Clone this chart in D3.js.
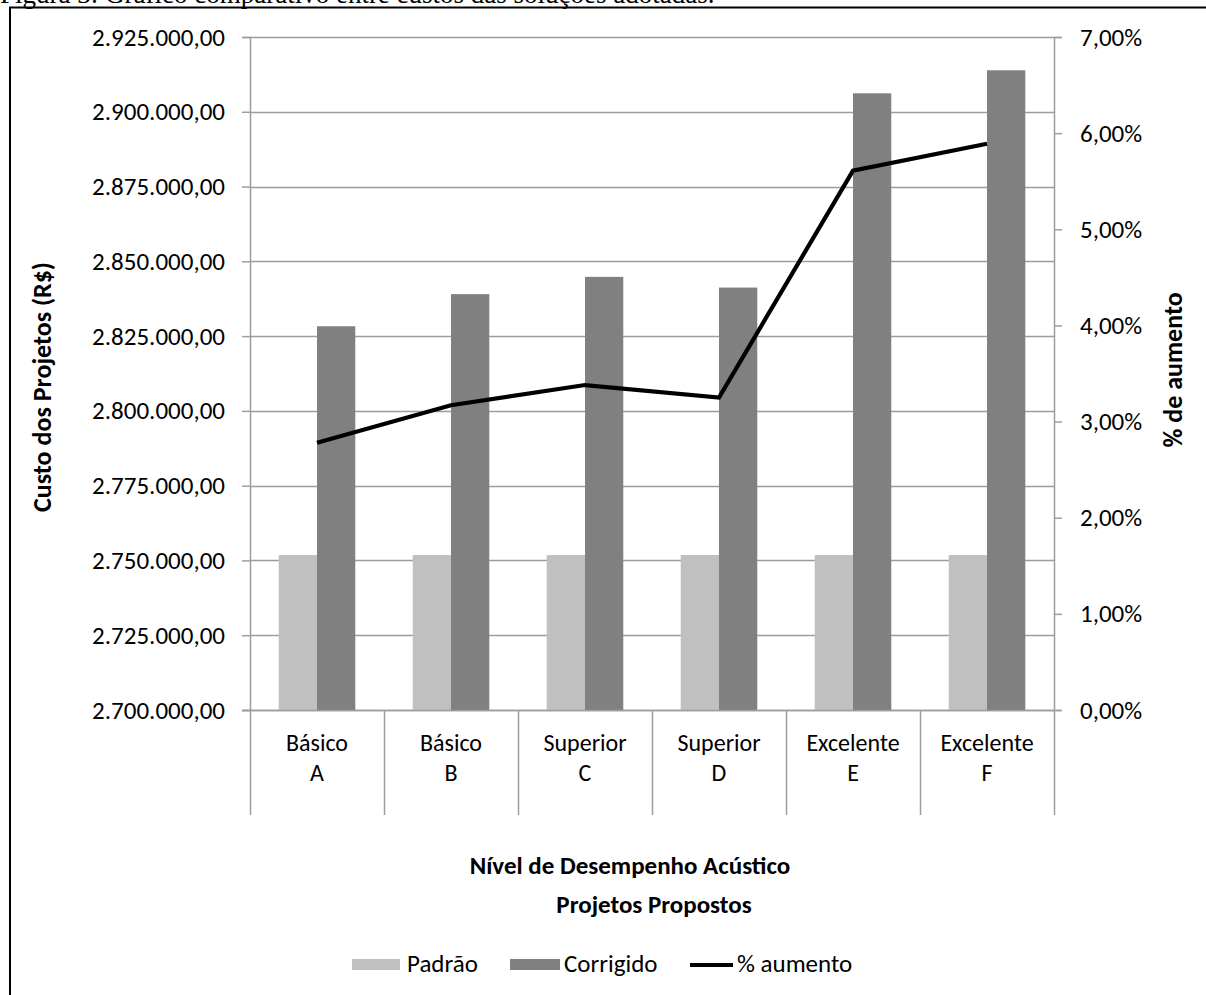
<!DOCTYPE html>
<html>
<head>
<meta charset="utf-8">
<script src="https://cdnjs.cloudflare.com/ajax/libs/d3/7.8.5/d3.min.js"></script>
<style>
  html, body { margin: 0; padding: 0; background: #fff; }
  svg { display: block; }
  text { font-family: Carlito, Calibri, Lato, sans-serif; fill: #000; }
</style>
</head>
<body>
<svg id="chart" width="1206" height="995"></svg>
<script>
// ---- data ----
const projetos = ["A", "B", "C", "D", "E", "F"];
const niveis = ["Básico", "Básico", "Superior", "Superior", "Excelente", "Excelente"];
const padrao = [2751800, 2751800, 2751800, 2751800, 2751800, 2751800];
const corrigido = [2828300, 2839030, 2844810, 2841230, 2906180, 2913880];
const aumento = [0.0278, 0.0317, 0.0338, 0.0325, 0.0561, 0.0589];
const yTicks = [2700000, 2725000, 2750000, 2775000, 2800000, 2825000, 2850000, 2875000, 2900000, 2925000];
const y2Ticks = [0, 0.01, 0.02, 0.03, 0.04, 0.05, 0.06, 0.07];
const seriesNames = ["Padrão", "Corrigido", "% aumento"];

// ---- layout ----
const W = 1206, H = 995;
const L = 250, R = 1054, T = 37, B = 710;
const gridColor = "#9d9d9d";
const cPadrao = "#c0c0c0", cCorr = "#808080";
const FS = 25;
const FONT = "Carlito, Calibri, Lato, sans-serif";

const loc = d3.formatLocale({decimal: ",", thousands: ".", grouping: [3], currency: ["R$", ""]});
const fmtY = loc.format(",.2f");
const fmtP = loc.format(".2%");

const svg = d3.select("#chart");

// caption (partially cut off at top, as in the source page)
svg.append("text")
  .attr("x", 0).attr("y", 3)
  .style("font-family", "'Liberation Serif', 'Times New Roman', serif")
  .style("font-size", "27px")
  .text("Figura 3: Gráfico comparativo entre custos das soluções adotadas.");

// frame
svg.append("line").attr("x1", 9).attr("x2", W).attr("y1", 7.5).attr("y2", 7.5)
  .attr("stroke", "#000").attr("stroke-width", 2);
svg.append("line").attr("x1", 10).attr("x2", 10).attr("y1", 7).attr("y2", H)
  .attr("stroke", "#000").attr("stroke-width", 2);

// scales
const x = d3.scaleBand().domain(projetos).range([L, R]).paddingInner(0).paddingOuter(0);
const y = d3.scaleLinear().domain([2700000, 2925000]).range([B, T]);
const y2 = d3.scaleLinear().domain([0, 0.07]).range([B, T]);

// gridlines
svg.append("g").selectAll("line").data(yTicks).join("line")
  .attr("x1", L).attr("x2", R)
  .attr("y1", d => Math.round(y(d)) + 0.5).attr("y2", d => Math.round(y(d)) + 0.5)
  .attr("stroke", gridColor).attr("stroke-width", 1.5);

// left axis
const gL = svg.append("g").attr("transform", `translate(${L},0)`)
  .call(d3.axisLeft(y).tickValues(yTicks).tickFormat(fmtY).tickSize(8).tickPadding(17));
gL.select(".domain").attr("stroke", gridColor).attr("stroke-width", 1.5);
gL.selectAll(".tick line").attr("stroke", gridColor).attr("stroke-width", 1.5);
gL.selectAll(".tick text").style("font-size", FS + "px")
  .style("font-family", FONT).attr("fill", "#000");

// right axis
const gR = svg.append("g").attr("transform", `translate(${R},0)`)
  .call(d3.axisRight(y2).tickValues(y2Ticks).tickFormat(fmtP).tickSize(8).tickPadding(18));
gR.select(".domain").attr("stroke", gridColor).attr("stroke-width", 1.5);
gR.selectAll(".tick line").attr("stroke", gridColor).attr("stroke-width", 1.5);
gR.selectAll(".tick text").style("font-size", FS + "px")
  .style("font-family", FONT).attr("fill", "#000");

// bars
const bw = x.bandwidth();
const barW = bw / 3.5;
const off = (bw - 2 * barW) / 2;
const data = projetos.map((p, i) => ({p, padrao: padrao[i], corr: corrigido[i], pct: aumento[i]}));

svg.append("g").selectAll("rect").data(data).join("rect")
  .attr("x", d => x(d.p) + off).attr("width", barW)
  .attr("y", d => y(d.padrao)).attr("height", d => B - y(d.padrao))
  .attr("fill", cPadrao);
svg.append("g").selectAll("rect").data(data).join("rect")
  .attr("x", d => x(d.p) + off + barW).attr("width", barW)
  .attr("y", d => y(d.corr)).attr("height", d => B - y(d.corr))
  .attr("fill", cCorr);

// bottom axis line
svg.append("line").attr("x1", L - 8).attr("x2", R).attr("y1", B + 0.5).attr("y2", B + 0.5)
  .attr("stroke", gridColor).attr("stroke-width", 1.5);

// category dividers (multi-level)
const bounds = projetos.map(p => x(p)).concat([R]);
svg.append("g").selectAll("line").data(bounds).join("line")
  .attr("x1", d => Math.round(d) + 0.5).attr("x2", d => Math.round(d) + 0.5)
  .attr("y1", B).attr("y2", 815)
  .attr("stroke", gridColor).attr("stroke-width", 1.5);

svg.append("g").selectAll("text").data(niveis).join("text")
  .attr("x", (d, i) => x(projetos[i]) + bw / 2).attr("y", 751)
  .attr("text-anchor", "middle").style("font-size", "24px").text(d => d);
svg.append("g").selectAll("text").data(projetos).join("text")
  .attr("x", d => x(d) + bw / 2).attr("y", 781)
  .attr("text-anchor", "middle").style("font-size", "24px").text(d => d);

// line
const line = d3.line().x(d => x(d.p) + bw / 2).y(d => y2(d.pct));
svg.append("path").datum(data).attr("d", line)
  .attr("fill", "none").attr("stroke", "#000").attr("stroke-width", 4.2)
  .attr("stroke-linejoin", "miter");

// axis titles
svg.append("text").attr("transform", "translate(51,387) rotate(-90)")
  .attr("text-anchor", "middle").style("font-size", "26px").style("font-weight", "bold")
  .text("Custo dos Projetos (R$)");
svg.append("text").attr("transform", "translate(1182,370) rotate(-90)")
  .attr("text-anchor", "middle").style("font-size", "26px").style("font-weight", "bold")
  .text("% de aumento");
svg.append("text").attr("x", 630).attr("y", 874)
  .attr("text-anchor", "middle").style("font-size", FS + "px").style("font-weight", "bold")
  .text("Nível de Desempenho Acústico");
svg.append("text").attr("x", 654).attr("y", 913)
  .attr("text-anchor", "middle").style("font-size", FS + "px").style("font-weight", "bold")
  .text("Projetos Propostos");

// legend
const lg = svg.append("g");
lg.append("rect").attr("x", 352).attr("y", 959).attr("width", 48).attr("height", 11).attr("fill", cPadrao);
lg.append("text").attr("x", 407).attr("y", 972).style("font-size", FS + "px").text(seriesNames[0]);
lg.append("rect").attr("x", 510).attr("y", 959).attr("width", 50).attr("height", 11).attr("fill", cCorr);
lg.append("text").attr("x", 564).attr("y", 972).style("font-size", FS + "px").text(seriesNames[1]);
lg.append("line").attr("x1", 690).attr("x2", 733).attr("y1", 965).attr("y2", 965)
  .attr("stroke", "#000").attr("stroke-width", 4.2);
lg.append("text").attr("x", 737).attr("y", 972).style("font-size", FS + "px").text(seriesNames[2]);
</script>
</body>
</html>
